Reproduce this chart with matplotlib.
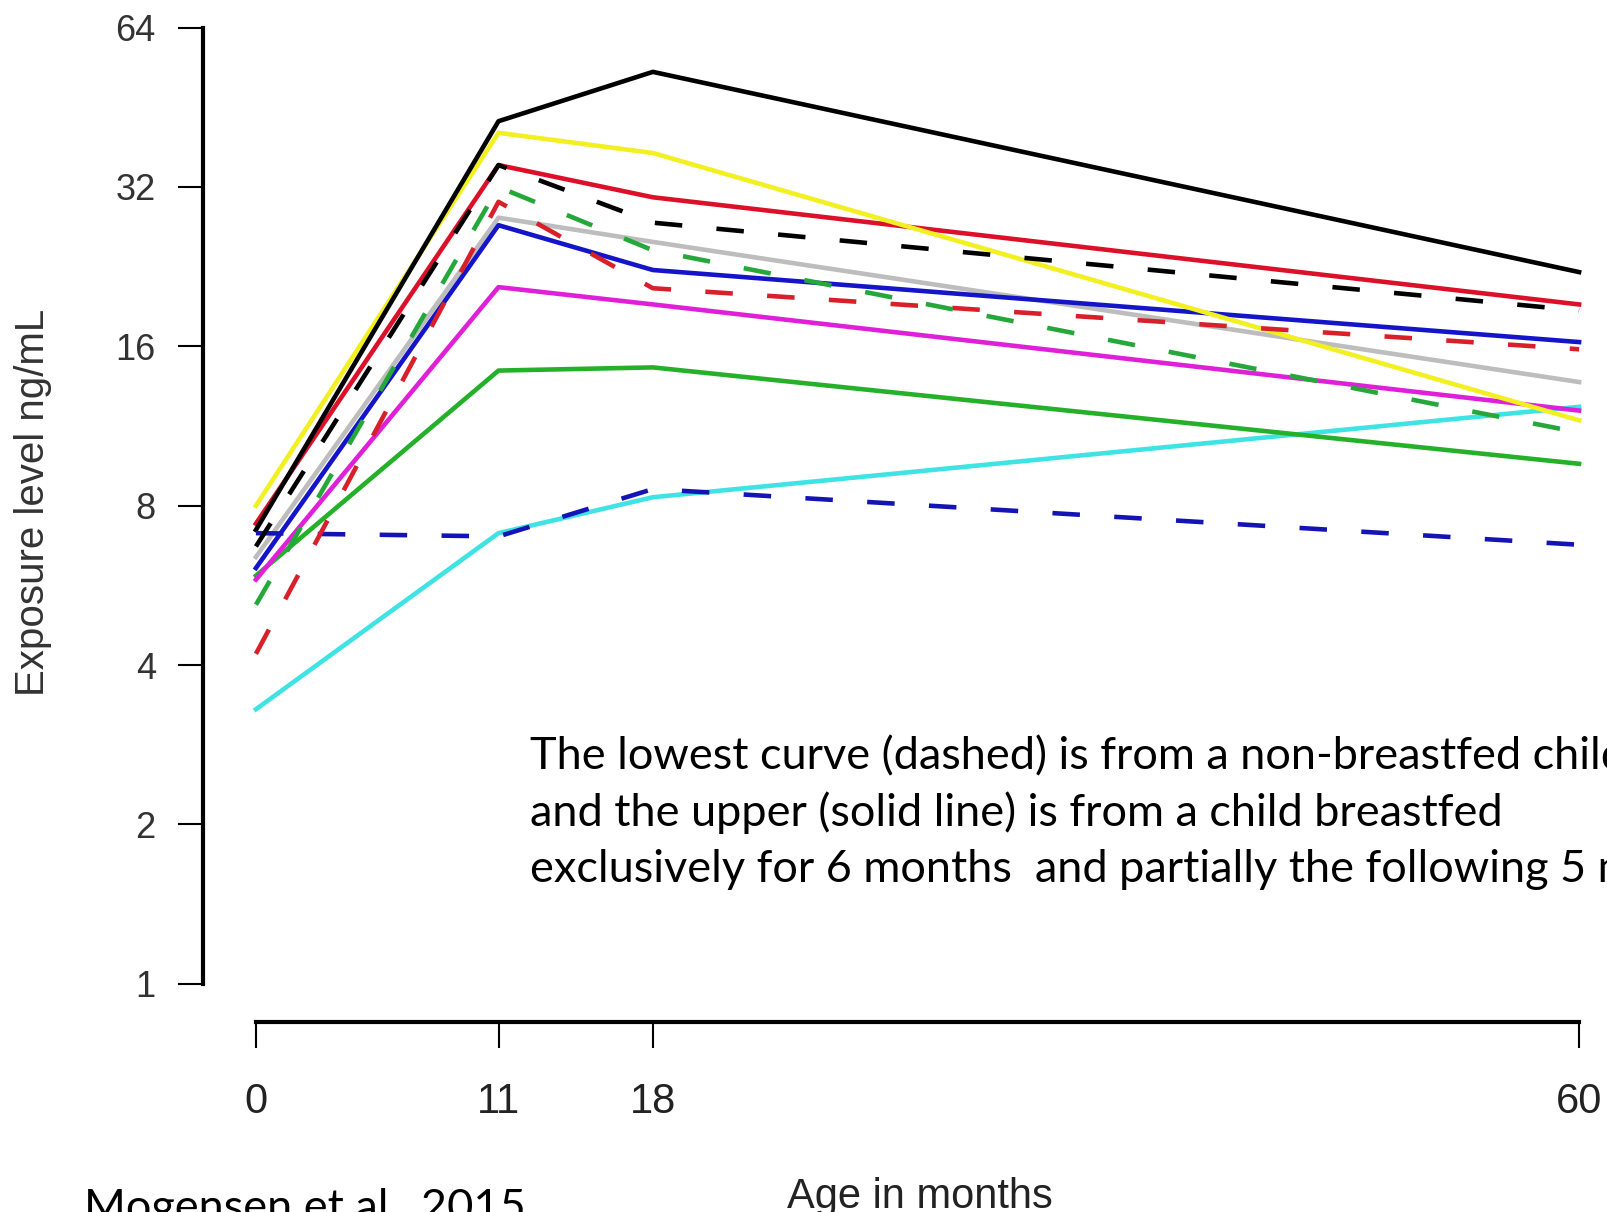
import numpy as np
import matplotlib.pyplot as plt

plt.rcParams['font.family'] = ['Liberation Sans', 'DejaVu Sans']

# age in months and exposure level ng/mL per child
ages = [0, 11, 18, 60]
black_solid = [7.2, 42.6, 52.8, 22.1]
yellow_solid = [8.0, 40.5, 37.1, 11.6]
red_solid = [7.4, 35.2, 30.6, 19.2]
gray_solid = [6.4, 28.0, 25.2, 13.7]
blue_solid = [6.1, 27.1, 22.3, 16.3]
magenta_solid = [5.8, 20.7, 19.2, 12.1]
green_solid = [5.9, 14.4, 14.6, 9.6]
cyan_solid = [3.3, 7.1, 8.3, 12.3]
black_dashed = [6.7, 35.2, 27.4, 18.7]
green_dashed = [5.2, 32.0, 24.3, 11.0]
red_dashed = [4.2, 30.0, 20.6, 15.8]
blue_dashed = [7.1, 7.0, 8.6, 6.75]

y_ticks = [1, 2, 4, 8, 16, 32, 64]

note_lines = ["The lowest curve (dashed) is from a non-breastfed child",
              "and the upper (solid line) is from a child breastfed",
              "exclusively for 6 months  and partially the following 5 months"]

solid = [(cyan_solid, '#3fe3e3'), (green_solid, '#25b02a'), (magenta_solid, '#e020d8'),
         (gray_solid, '#bdbdbd'), (blue_solid, '#1414c8'), (red_solid, '#dc1028'),
         (yellow_solid, '#f2f020'), (black_solid, '#000000')]
dashed = [(blue_dashed, '#1414b4'), (red_dashed, '#d8202a'), (green_dashed, '#25a83a'),
          (black_dashed, '#000000')]

W, H = 1607, 1212
fig = plt.figure(figsize=(W / 100, H / 100), dpi=100)
ax = fig.add_axes([203 / W, 190 / H, 1429 / W, 1032.6 / H])

for vals, c in solid:
    ax.plot(ages, vals, color=c, lw=3.3)
for vals, c in dashed:
    ax.plot(ages, vals, color=c, lw=3.3, linestyle=(0, (6, 7.5)))

ax.set_yscale('log', base=2)
ax.set_xlim(-2.4, 62.4)
ax.set_ylim(2 ** -0.24, 2 ** 6.24)
ax.set_yticks(y_ticks)
ax.set_yticklabels([str(v) for v in y_ticks])
ax.yaxis.set_minor_locator(plt.NullLocator())
ax.set_xticks(ages)
ax.set_xticklabels([str(a) for a in ages])

for s in ['top', 'right']:
    ax.spines[s].set_visible(False)
ax.spines['left'].set_bounds(1, 64)
ax.spines['bottom'].set_bounds(0, 60)
ax.spines['left'].set_linewidth(3)
ax.spines['bottom'].set_linewidth(3)
ax.tick_params(axis='y', length=18, width=1.5, pad=16, labelsize=26, labelcolor='#333333')
ax.tick_params(axis='x', length=19, width=1.5, pad=24, labelsize=30, labelcolor='#222222')

fig.text(33 / W, 1 - 502 / H, 'Exposure level ng/mL', rotation=90, ha='center', va='center',
         fontsize=29, color='#333333')
fig.text(920 / W, 1 - 1177 / H, 'Age in months', ha='center', va='top', fontsize=30,
         color='#222222')

for i, line in enumerate(note_lines):
    fig.text(530 / W, 1 - (769 + 56.5 * i) / H, line, ha='left', va='baseline',
             fontsize=32.5, family='Lato')
fig.text(84 / W, 1 - 1221 / H, 'Mogensen et al., 2015', ha='left', va='baseline',
         fontsize=32.5, family='Lato')

fig.savefig('out.png', dpi=100, facecolor='white')
